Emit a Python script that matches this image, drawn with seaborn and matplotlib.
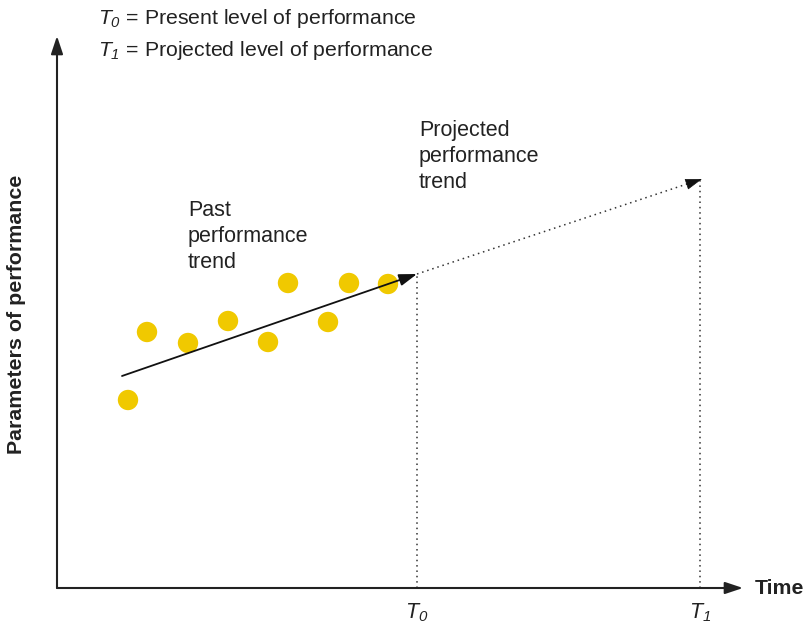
import matplotlib
matplotlib.use("Agg")
import matplotlib.pyplot as plt
import seaborn as sns
import pandas as pd

# ---- data (chart units: origin at the axes corner) ----
past_time = [71, 90, 131, 171, 211, 231, 271, 292, 331]
past_perf = [188, 256, 245, 267, 246, 305, 266, 305, 304]
trend_start = (65, 212)
t0 = (360, 314)
t1 = (645, 409)
legend_lines = [r"$\mathit{T_{0}}$ = Present level of performance",
                r"$\mathit{T_{1}}$ = Projected level of performance"]
tick_labels = [r"$\mathit{T_{0}}$", r"$\mathit{T_{1}}$"]

sns.set_theme(style="white")
plt.rcParams["font.family"] = ["Liberation Sans", "DejaVu Sans"]
plt.rcParams["mathtext.fontset"] = "custom"
plt.rcParams["mathtext.it"] = "Liberation Sans:italic"
plt.rcParams["mathtext.rm"] = "Liberation Sans:italic"

fig = plt.figure(figsize=(8.05, 6.24), dpi=100)
ax = fig.add_axes([0, 0, 1, 1])
ax.set_xlim(-57, 748)
ax.set_ylim(-36, 588)
ax.axis("off")

df = pd.DataFrame({"time": past_time, "perf": past_perf})
sns.scatterplot(data=df, x="time", y="perf", ax=ax, s=215, color="#F0C900",
                edgecolor="none", zorder=3)

# axes arrows
ax.annotate("", xy=(0, 552), xytext=(0, 0),
            arrowprops=dict(arrowstyle="-|>,head_length=0.9,head_width=0.3",
                            color="#222222", lw=1.5, shrinkA=0, shrinkB=0))
ax.annotate("", xy=(686, 0), xytext=(0, 0),
            arrowprops=dict(arrowstyle="-|>,head_length=0.9,head_width=0.3",
                            color="#222222", lw=1.5, shrinkA=0, shrinkB=0))

# past trend arrow
ax.annotate("", xy=t0, xytext=trend_start,
            arrowprops=dict(arrowstyle="-|>,head_length=0.9,head_width=0.3",
                            color="#111111", lw=1.3, shrinkA=0, shrinkB=0), zorder=4)
# projected dotted trend
ax.plot([t0[0], t1[0] - 4], [t0[1], t1[1] - 1.3], color="#333333", lw=1.1,
        linestyle=(0, (1, 2.5)))
ax.annotate("", xy=t1, xytext=(t1[0] - 14, t1[1] - 4.7),
            arrowprops=dict(arrowstyle="-|>,head_length=0.9,head_width=0.3",
                            color="#111111", lw=0.5, shrinkA=0, shrinkB=0))

# vertical dotted guides
ax.plot([t0[0], t0[0]], [0, t0[1]], color="#333333", lw=1.1, linestyle=(0, (1, 2.5)))
ax.plot([t1[0] - 2, t1[0] - 2], [0, t1[1] - 1], color="#333333", lw=1.1, linestyle=(0, (1, 2.5)))

# tick labels
ax.text(t0[0], -25, tick_labels[0], fontsize=15.5, ha="center", va="center", color="#222222")
ax.text(t1[0] - 2, -25, tick_labels[1], fontsize=15.5, ha="center", va="center", color="#222222")

# axis titles
ax.text(698, -1, "Time", fontsize=15.3, fontweight="bold", ha="left", va="center", color="#222222")
ax.text(-40, 274, "Parameters of performance", fontsize=15.4, fontweight="bold",
        rotation=90, ha="center", va="center", color="#222222")

# key
ax.text(41, 569, legend_lines[0], fontsize=15.3, ha="left", va="center", color="#222222")
ax.text(41, 538, legend_lines[1], fontsize=15.3, ha="left", va="center", color="#222222")

# annotations
ax.text(131, 388, "Past\nperformance\ntrend", fontsize=15.5, ha="left", va="top",
        linespacing=1.32, color="#222222")
ax.text(362, 468, "Projected\nperformance\ntrend", fontsize=15.5, ha="left", va="top",
        linespacing=1.32, color="#222222")

fig.savefig("out.png", dpi=100)
